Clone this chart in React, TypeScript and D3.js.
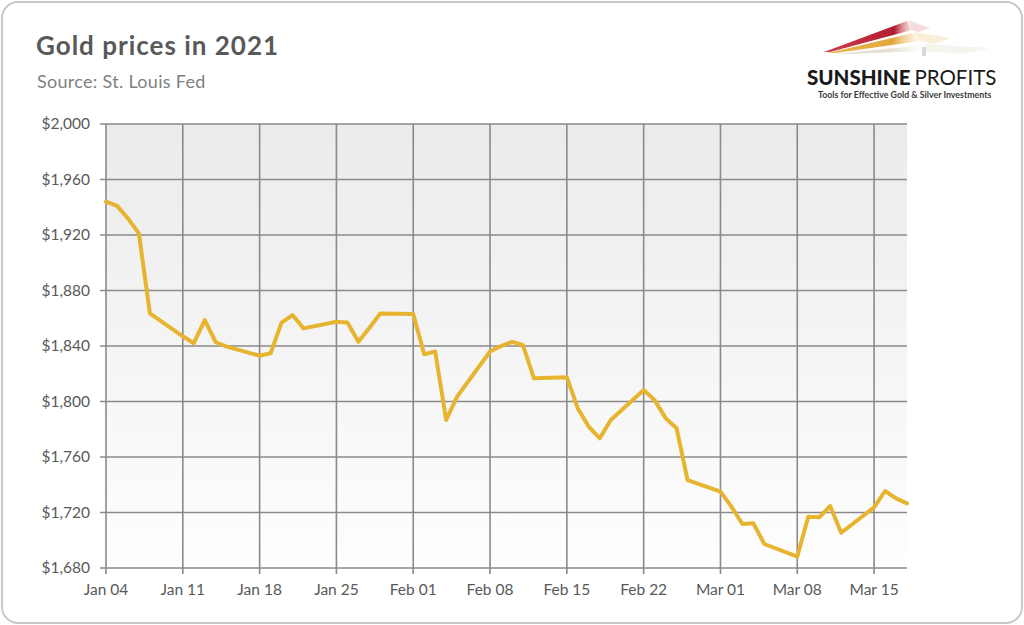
import React from "react";
import * as d3 from "d3";

// gold price (LBMA, USD/oz), business days Jan 4 - Mar 18 2021
const dates = [
  "2021-01-04", "2021-01-05", "2021-01-06", "2021-01-07", "2021-01-08",
  "2021-01-11", "2021-01-12", "2021-01-13", "2021-01-14", "2021-01-15",
  "2021-01-18", "2021-01-19", "2021-01-20", "2021-01-21", "2021-01-22",
  "2021-01-25", "2021-01-26", "2021-01-27", "2021-01-28", "2021-01-29",
  "2021-02-01", "2021-02-02", "2021-02-03", "2021-02-04", "2021-02-05",
  "2021-02-08", "2021-02-09", "2021-02-10", "2021-02-11", "2021-02-12",
  "2021-02-15", "2021-02-16", "2021-02-17", "2021-02-18", "2021-02-19",
  "2021-02-22", "2021-02-23", "2021-02-24", "2021-02-25", "2021-02-26",
  "2021-03-01", "2021-03-02", "2021-03-03", "2021-03-04", "2021-03-05",
  "2021-03-08", "2021-03-09", "2021-03-10", "2021-03-11", "2021-03-12",
  "2021-03-15", "2021-03-16", "2021-03-17", "2021-03-18",
];

const prices = [
  1944, 1941, 1932, 1921, 1863.5,
  1847, 1842, 1858.7, 1842.7, 1839.5,
  1833, 1834.8, 1856.8, 1862.3, 1852.7,
  1857.5, 1857, 1843, 1853, 1863.5,
  1863, 1834, 1836, 1786.7, 1803.5,
  1836, 1840, 1843, 1840.7, 1816.7,
  1817.4, 1795, 1781.8, 1773.5, 1786.7,
  1808.3, 1801, 1788, 1780.7, 1743.4,
  1735, 1724.2, 1711.7, 1712.2, 1697.3,
  1688.2, 1717, 1716.5, 1724.7, 1705.4,
  1723.7, 1735.5, 1730.2, 1726.6,
];

const xTicks = [
  "2021-01-04", "2021-01-11", "2021-01-18", "2021-01-25", "2021-02-01",
  "2021-02-08", "2021-02-15", "2021-02-22", "2021-03-01", "2021-03-08", "2021-03-15",
];

const yTicks = [1680, 1720, 1760, 1800, 1840, 1880, 1920, 1960, 2000];

const parse = d3.timeParse("%Y-%m-%d");

const W = 1024;
const H = 625;
const left = 106;
const right = 907;
const top = 124;
const bottom = 568;

const App = () => {
  const data = dates.map((d, i) => ({ date: parse(d) as Date, value: prices[i] }));

  const x = d3
    .scaleTime()
    .domain([parse("2021-01-04") as Date, parse("2021-03-18") as Date])
    .range([left, right]);
  const y = d3.scaleLinear().domain([1680, 2000]).range([bottom, top]);

  const line = d3
    .line<{ date: Date; value: number }>()
    .x((d) => x(d.date))
    .y((d) => y(d.value));

  const fmtX = d3.timeFormat("%b %d");
  const fmtY = d3.format("$,");
  const font = "Lato, 'Open Sans', sans-serif";

  return (
    <svg
      width={W}
      height={H}
      style={{ position: "absolute", left: 0, top: 0, background: "#fff" }}
    >
      <defs>
        <linearGradient id="plotBg" x1="0" y1="0" x2="0" y2="1">
          <stop offset="0%" stopColor="#ebebeb" />
          <stop offset="100%" stopColor="#fefefe" />
        </linearGradient>
        <linearGradient id="redFade" x1="0" y1="0" x2="1" y2="0">
          <stop offset="0%" stopColor="#c8263a" stopOpacity="0.9" />
          <stop offset="80%" stopColor="#b01e30" />
          <stop offset="100%" stopColor="#e6a0a0" stopOpacity="0.3" />
        </linearGradient>
        <linearGradient id="goldFade" x1="0" y1="0" x2="1" y2="0">
          <stop offset="0%" stopColor="#e8b040" stopOpacity="0.9" />
          <stop offset="70%" stopColor="#e3a63a" />
          <stop offset="100%" stopColor="#f3dca8" stopOpacity="0.2" />
        </linearGradient>
        <linearGradient id="greyFade" x1="0" y1="0" x2="1" y2="0">
          <stop offset="0%" stopColor="#ddd6c6" stopOpacity="0.8" />
          <stop offset="60%" stopColor="#e6e0d2" />
          <stop offset="100%" stopColor="#f4f2ec" stopOpacity="0.1" />
        </linearGradient>
      </defs>

      {/* outer frame */}
      <rect x={2} y={2} width={W - 4} height={H - 4} rx={16} fill="#fff" stroke="#c9c9c9" strokeWidth={2} />

      {/* titles */}
      <text x={36} y={55} fontFamily={font} fontWeight={700} fontSize={26} letterSpacing={1} fill="#595959">
        Gold prices in 2021
      </text>
      <text x={37} y={88} fontFamily={font} fontSize={18} letterSpacing={0.3} fill="#7f7f7f">
        Source: St. Louis Fed
      </text>

      {/* logo */}
      <g>
        <polygon points="824,52 907,21 912,30 830,52" fill="url(#redFade)" />
        <polygon points="908,20 930,28 918,32 912,30" fill="#e8a8a8" opacity={0.4} />
        <polygon points="828,53 913,33 920,41 836,53" fill="url(#goldFade)" />
        <polygon points="914,32 950,38 935,44 920,41" fill="#f0d49a" opacity={0.4} />
        <polygon points="836,54 924,45 926,51 846,54" fill="url(#greyFade)" />
        <polygon points="924,44 990,48 960,54 926,51" fill="#efece4" opacity={0.6} />
        <rect x={922} y={47} width={4} height={9} fill="#d8d8d8" />
        <text x={807} y={85} fontFamily={font} fontSize={20.5} fill="#1a1a1a">
          <tspan fontWeight={900}>SUNSHINE</tspan>
          <tspan dx={4}>PROFITS</tspan>
        </text>
        <text x={818} y={98} fontFamily={font} fontWeight={700} fontSize={8.8} fill="#3a3a3a">
          Tools for Effective Gold &amp; Silver Investments
        </text>
      </g>

      {/* plot area */}
      <rect x={left} y={top} width={right - left} height={bottom - top} fill="url(#plotBg)" />

      {yTicks.map((t) => (
        <g key={t}>
          <line x1={left - 6} x2={right} y1={y(t)} y2={y(t)} stroke="#8a8a8a" strokeWidth={1.6} />
          <text
            x={left - 16}
            y={y(t)}
            dy="0.35em"
            textAnchor="end"
            fontFamily={font}
            fontSize={15.5}
            fill="#595959"
          >
            {fmtY(t)}
          </text>
        </g>
      ))}

      {xTicks.map((t) => {
        const d = parse(t) as Date;
        return (
          <g key={t}>
            <line x1={x(d)} x2={x(d)} y1={top} y2={bottom + 6} stroke="#8a8a8a" strokeWidth={1.6} />
            <text
              x={x(d)}
              y={595}
              textAnchor="middle"
              fontFamily={font}
              fontSize={15.5}
              fill="#595959"
            >
              {fmtX(d)}
            </text>
          </g>
        );
      })}

      <path
        d={line(data) ?? ""}
        fill="none"
        stroke="#e6b42e"
        strokeWidth={4}
        strokeLinejoin="round"
        strokeLinecap="round"
      />
    </svg>
  );
};

export default App;
